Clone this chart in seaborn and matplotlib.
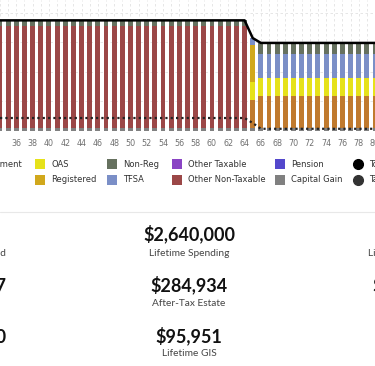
import numpy as np
import pandas as pd
import seaborn as sns
import matplotlib.pyplot as plt
from matplotlib.patches import Rectangle
from matplotlib.lines import Line2D

# Ages shown on the chart: working years to 64, transition at 65, retired after
ages = list(range(34, 81))
n_work, n_ret = 31, 15

# Spending by source ($/yr)
capital_gain      = [2000] * n_work  + [2000]  + [2000] * n_ret
cpp_retirement    = [0] * n_work     + [19000] + [21700] * n_ret
other_non_taxable = [69500] * n_work + [0]     + [0] * n_ret
oas               = [0] * n_work     + [12200] + [12200] * n_ret
registered        = [0] * n_work     + [25100] + [0] * n_ret
tfsa              = [0] * n_work     + [4700]  + [16300] * n_ret
non_reg           = [3500] * n_work  + [0]     + [7500] * n_ret

total_spending = [75000] * n_work + [63000] + [59700] * n_ret
taxes          = [8800] * n_work  + [5400]  + [1500] * n_ret

# bottom -> top stacking order
sources = ['Capital Gain', 'CPP Retirement', 'Other Non-Taxable', 'OAS',
           'Registered', 'TFSA', 'Non-Reg']
series = [capital_gain, cpp_retirement, other_non_taxable, oas,
          registered, tfsa, non_reg]
colors = {'CPP Retirement': '#c07a2e', 'Salary': '#3f8f8f', 'OAS': '#e6e21a',
          'Registered': '#d1a81c', 'Non-Reg': '#66715f', 'TFSA': '#7b8fc7',
          'Other Taxable': '#8a44c4', 'Other Non-Taxable': '#9b4747',
          'Pension': '#5448cc', 'Capital Gain': '#808080'}

# legend columns (label pairs), last column are the line series
legend_cols = [['CPP Retirement', 'Salary'], ['OAS', 'Registered'],
               ['Non-Reg', 'TFSA'], ['Other Taxable', 'Other Non-Taxable'],
               ['Pension', 'Capital Gain'], ['Total Spending', 'Taxes']]

# summary numbers under the chart
stat_values = [['$74,000', '$2,640,000', '$70,500'],
               ['$1,318,247', '$284,934', '$1,120,565'],
               ['$1,056,210', '$95,951', '$48,300']]
stat_labels = [['Total Income Earned', 'Lifetime Spending', 'Lifetime Income Taxes'],
               ['Total Taxes', 'After-Tax Estate', 'Net Worth'],
               ['Total CPP', 'Lifetime GIS', 'Total OAS']]

df = pd.DataFrame([(a, s, v[i]) for s, v in zip(sources, series)
                   for i, a in enumerate(ages)], columns=['age', 'source', 'amount'])
lines = pd.DataFrame({'age': ages, 'total': total_spending, 'taxes': taxes})

sns.set_style('white')
plt.rcParams['font.family'] = ['DejaVu Sans']

W, H = 375, 366
fig = plt.figure(figsize=(W / 100, H / 100), dpi=100)
ax = fig.add_axes([0, 1 - 131 / H, 1, 131 / H])
ax.set_axisbelow(True)
ax.grid(True, linestyle=(0, (3, 3)), color='#e2e2e2', linewidth=0.6)

sns.histplot(data=df, x='age', weights='amount', hue='source',
             hue_order=sources[::-1], multiple='stack', discrete=True,
             shrink=0.6, palette=colors, alpha=1, linewidth=0,
             legend=False, ax=ax)
sns.lineplot(data=lines, x='age', y='total', color='black', linewidth=1.8, ax=ax)
sns.lineplot(data=lines, x='age', y='taxes', color='#222222', linewidth=1.6,
             linestyle=(0, (1, 1.4)), ax=ax)

ax.set_xlim(34.68, 79.59)
ax.set_ylim(0, 88800)
ax.set_yticks([0, 20000, 40000, 60000, 80000])
ax.set_yticklabels([])
ax.set_xticks(ages)
ax.set_xticklabels([str(a) if a % 2 == 0 and a > 34 else '' for a in ages])
ax.tick_params(axis='x', length=2, width=0.6, color='#cccccc', pad=4,
               labelsize=5.8, labelcolor='#707070')
ax.tick_params(axis='y', length=0)
ax.set_xlabel('')
ax.set_ylabel('')
for sp in ax.spines.values():
    sp.set_visible(False)


def fx(px):
    return px / W


def fy(py):
    return 1 - py / H


# legend
col_x = [-60, 35, 107, 172, 275, 353]
row_y = [164, 180]
for ci, (cx, labels) in enumerate(zip(col_x, legend_cols)):
    for ry, lab in zip(row_y, labels):
        if ci == len(legend_cols) - 1:
            mcol = 'black' if lab == 'Total Spending' else '#333333'
            fig.add_artist(Line2D([fx(cx + 5)], [fy(ry)], marker='o', markersize=7,
                                  color=mcol, linestyle='none'))
        else:
            fig.add_artist(Rectangle((fx(cx), fy(ry + 5)), fx(10), 10 / H,
                                     facecolor=colors[lab], edgecolor='none'))
        fig.text(fx(cx + 16), fy(ry), lab, fontsize=6, color='#333333',
                 ha='left', va='center')

# separator and summary stats
fig.add_artist(Line2D([0, 1], [fy(212), fy(212)], color='#e8e8e8', linewidth=0.8))
stat_x = [-40, 189, 418]
val_y = [234, 285, 336]
lab_y = [253, 303, 353]
for r in range(3):
    for c in range(3):
        fig.text(fx(stat_x[c]), fy(val_y[r]), stat_values[r][c], family='Lato',
                 fontweight='bold', fontsize=13, color='#111111',
                 ha='center', va='center')
        fig.text(fx(stat_x[c]), fy(lab_y[r]), stat_labels[r][c], family='Lato',
                 fontsize=7.3, color='#444444', ha='center', va='center')

fig.savefig('out.png', dpi=100)
